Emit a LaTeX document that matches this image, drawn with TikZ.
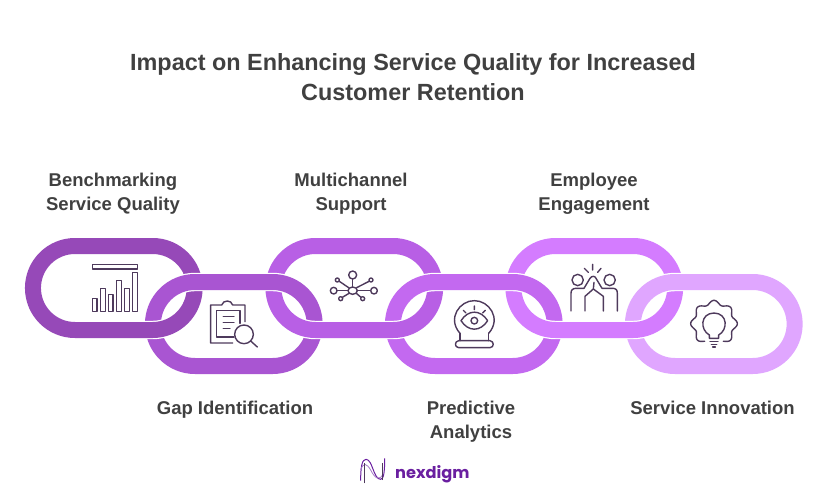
\documentclass[tikz,border=0pt]{standalone}
\usepackage{fontspec}
\setmainfont{Liberation Sans}
\newfontfamily\logofont{Poppins}
\usetikzlibrary{positioning}
\definecolor{linkA}{HTML}{9649B8}
\definecolor{linkB}{HTML}{A955D2}
\definecolor{linkC}{HTML}{B85FE5}
\definecolor{linkD}{HTML}{C369F0}
\definecolor{linkE}{HTML}{D47CFF}
\definecolor{linkF}{HTML}{E0A6FF}
\definecolor{inkgrey}{HTML}{404040}
\definecolor{iconink}{HTML}{4E3A5C}
\definecolor{logoink}{HTML}{6A1FA0}
\begin{document}
\begin{tikzpicture}[x=1pt,y=-1pt,line join=round]
\tikzstyle{chainlink}=[draw=white,line width=1.2pt,double distance=16pt,rounded corners=42pt,
  minimum width=161.7pt,minimum height=84pt,inner sep=0pt,outer sep=0pt]
\tikzstyle{title}=[text=inkgrey,font=\bfseries\fontsize{23.4}{30}\selectfont,align=center]
\tikzstyle{label}=[text=inkgrey,font=\bfseries\fontsize{18.5}{24}\selectfont,align=center]
\tikzstyle{icon}=[draw=iconink,line width=1.4pt,line cap=round]
\useasboundingbox (0,0) rectangle (829,492);

\node[title] (heading) at (413,77) {Impact on Enhancing Service Quality for Increased\\Customer Retention};

\node[label] (bench) at (113,194) {Benchmarking\\Service Quality};
\node[label] (multi) at (351,194) {Multichannel\\Support};
\node[label] (employ) at (594,194) {Employee\\Engagement};
\node[label] (gap) at (235,410) {Gap Identification};
\node[label] (predict) at (471,422) {Predictive\\Analytics};
\node[label] (innov) at (712.5,408) {Service Innovation};

% upper links, then lower links over them
\foreach \n/\cx/\col in {1/113.8/linkA,3/354.3/linkC,5/594.3/linkE}
  \node[chainlink,double=\col] (l\n) at (\cx,288) {};
\foreach \n/\cx/\col in {2/233.8/linkB,4/473.8/linkD,6/713.8/linkF}
  \node[chainlink,double=\col] (l\n) at (\cx,324) {};
% bottoms of upper links go over again
\begin{scope}
\clip (0,306) rectangle (829,350);
\foreach \n/\cx/\col in {1/113.8/linkA,3/354.3/linkC,5/594.3/linkE}
  \node[chainlink,double=\col] (b\n) at (\cx,288) {};
\end{scope}

% chart
\begin{scope}[shift={(10,225)},scale=1/3]
\draw[icon] (247,118) rectangle (383,132);
\foreach \bx/\by in {247/220,272/190,295/208,320/166,344/190,368/142}
  \draw[icon] (\bx,\by) rectangle ({\bx+14},259);
\end{scope}

% clipboard
\begin{scope}[shift={(10,225)},scale=1/3]
\draw[icon] (705,290) -- (705,240) -- (668,240) .. controls (664,224) and (640,224) .. (635,240) -- (602,240) -- (602,354) -- (668,354);
\draw[icon] (690,295) -- (690,257) -- (620,257) -- (620,336) -- (672,336);
\draw[icon] (640,275) -- (672,275) (640,292) -- (672,292) (640,310) -- (660,310);
\draw[icon] (702,328) circle (28);
\draw[icon] (722,348) -- (742,366);
\end{scope}

% network
\begin{scope}[shift={(260,225)},scale=1/3]
\draw[icon] (278,197) ellipse (14 and 11);
\draw[icon] (278,150) circle (12) (221,197) circle (10) (342,197) circle (10);
\draw[icon] (232,165) circle (6) (333,165) circle (6) (242,221) circle (6) (308,221) circle (6);
\draw[icon] (278,162) -- (278,186) (231,197) -- (264,197) (292,197) -- (332,197);
\draw[icon] (238,169) -- (266,188) (327,169) -- (290,188) (247,217) -- (267,205) (303,217) -- (289,205);
\end{scope}

% crystal ball
\begin{scope}[shift={(260,225)},scale=1/3]
\draw[icon] (600,325) .. controls (560,280) and (600,226) .. (643,227) .. controls (686,226) and (726,280) .. (686,325);
\draw[icon] (603,287) .. controls (625,253) and (661,253) .. (683,287) .. controls (661,321) and (625,321) .. (603,287) -- cycle;
\draw[icon] (643,287) circle (10);
\draw[icon] (643,243) -- (643,254) (610,256) -- (618,264) (676,256) -- (668,264);
\draw[icon] (600,325) -- (600,347) (686,325) -- (686,347);
\draw[icon] (596,347) -- (690,347) .. controls (703,349) and (703,367) .. (690,368) -- (596,368) .. controls (583,367) and (583,349) .. (596,347) -- cycle;
\end{scope}

% high five
\begin{scope}[shift={(500,225)},scale=1/3]
\draw[icon] (233,165) circle (17) (329,165) circle (17);
\draw[icon] (213,258) -- (213,205) .. controls (213,195) and (218,190) .. (228,190) -- (252,190) -- (270,160) .. controls (275,152) and (285,152) .. (288,160) -- (306,190) -- (338,190) .. controls (348,190) and (352,195) .. (352,205) -- (352,258);
\draw[icon] (255,258) -- (255,214) -- (280,192) -- (282,172);
\draw[icon] (310,258) -- (310,214) -- (280,192);
\draw[icon] (278,118) -- (278,135) (253,130) -- (265,142) (303,130) -- (293,142);
\end{scope}

% gear bulb
\begin{scope}[shift={(500,225)},scale=1/3]
\draw[icon] plot[smooth,domain=118:422,samples=90] ({642+(64+6*cos(8*\x))*cos(\x)},{296+(64+6*cos(8*\x))*sin(\x)});
\draw[icon] (628,340) -- (628,330) .. controls (600,315) and (600,265) .. (642,264) .. controls (684,265) and (684,315) .. (656,330) -- (656,340) -- cycle;
\draw[icon] (630,350) -- (654,350) (634,358) -- (650,358) (638,366) -- (646,366);
\end{scope}

% logo
\node[text=logoink,font=\logofont\bfseries\fontsize{16.2}{20}\selectfont,anchor=base west,inner sep=0pt] (brand) at (395,478) {nexdigm};
\begin{scope}[shift={(340,450)},scale=1/3]
\draw[logoink,line width=1pt] (62,92) .. controls (62,50) and (66,28) .. (78,28) .. controls (98,28) and (100,88) .. (122,88) .. controls (132,88) and (134,60) .. (134,25);
\draw[logoink!60,line width=.8pt] (62,60) .. controls (70,36) and (80,40) .. (92,60) .. controls (104,84) and (118,96) .. (130,70);
\draw[iconink,line width=.8pt] (72,100) -- (72,40) (128,90) -- (128,40);
\end{scope}
\end{tikzpicture}
\end{document}
